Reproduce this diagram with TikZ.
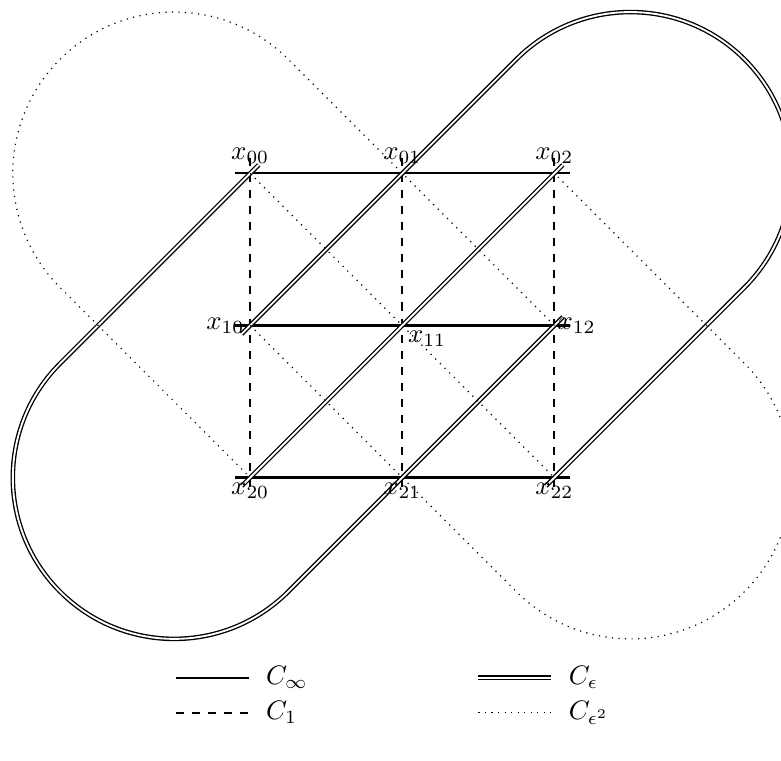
\documentclass[tikz,border=0pt]{standalone}
\usepackage{amsmath,amssymb}
\usepackage{tikz}
\usetikzlibrary{positioning,calc}

\begin{document}
\begin{tikzpicture}[
 x=2cm,y=2cm,
 inf/.style={line width=0.8pt},
 one/.style={line width=0.8pt,dashed},
 eps/.style={double,double distance=0.7pt,line width=0.5pt},
 epstwo/.style={line width=0.45pt,dotted},
 ext/.style={shorten <=-4.5pt,shorten >=-4.5pt}
]
\useasboundingbox (-1.645,-3.86) rectangle (3.49,1.14);
% grid points
\foreach \i in {0,1,2}{\foreach \j in {0,1,2}{\coordinate (p\i\j) at (\j,-\i);}}
% C_infty rows
\draw[inf,shorten <=-0.2cm,shorten >=-0.2cm] (p00)--(p02);
\draw[inf,shorten <=-0.2cm,shorten >=-0.2cm] (p10)--(p12);
\draw[inf,shorten <=-0.2cm,shorten >=-0.2cm] (p20)--(p22);
% C_1 columns
\draw[one,shorten <=-0.2cm,shorten >=-0.2cm] (p00)--(p20);
\draw[one,shorten <=-0.2cm,shorten >=-0.2cm] (p01)--(p21);
\draw[one,shorten <=-0.2cm,shorten >=-0.2cm] (p02)--(p22);
% C_eps
\draw[eps,ext] (p20)--(p02);
\draw[eps,ext] (p00)--(-1.25,-1.25) arc[start angle=135,end angle=315,radius=1.0607]--(p21)--(p12);
\draw[eps,ext] (p10)--(p01)--(1.75,0.75) arc[start angle=135,end angle=-45,radius=1.0607]--(p22);
% C_eps^2
\draw[epstwo] (p00)--(p22);
\draw[epstwo] (p12)--(p01)--(0.25,0.75) arc[start angle=45,end angle=225,radius=1.0607]--(p20);
\draw[epstwo] (p10)--(p21)--(1.75,-2.75) arc[start angle=225,end angle=405,radius=1.0607]--(p02);
% labels
\node[above] (n00) at (p00) {$x_{00}$};
\node[above] (n01) at (p01) {$x_{01}$};
\node[above] (n02) at (p02) {$x_{02}$};
\node[left,inner sep=2pt] (n10) at (p10) {$x_{10}$};
\node[below right,inner sep=2pt] (n11) at (p11) {$x_{11}$};
\node[right,inner sep=1pt] (n12) at (p12) {$x_{12}$};
\node[below,inner sep=2pt] (n20) at (p20) {$x_{20}$};
\node[below,inner sep=2pt] (n21) at (p21) {$x_{21}$};
\node[below,inner sep=2pt] (n22) at (p22) {$x_{22}$};
% legend
\coordinate (la) at (-0.49,-3.316); \coordinate (lb) at (-0.01,-3.316);
\coordinate (lc) at (-0.49,-3.546); \coordinate (ld) at (-0.01,-3.546);
\coordinate (le) at (1.5,-3.316); \coordinate (lf) at (1.98,-3.316);
\coordinate (lg) at (1.5,-3.546); \coordinate (lh) at (1.98,-3.546);
\draw[inf] (la)--(lb); \node[right=3pt of lb] (tinf) {$C_\infty$};
\draw[one] (lc)--(ld); \node[right=3pt of ld] (tone) {$C_1$};
\draw[eps] (le)--(lf); \node[right=3pt of lf] (teps) {$C_\epsilon$};
\draw[epstwo] (lg)--(lh); \node[right=3pt of lh] (tepstwo) {$C_{\epsilon^2}$};
\end{tikzpicture}
\end{document}
